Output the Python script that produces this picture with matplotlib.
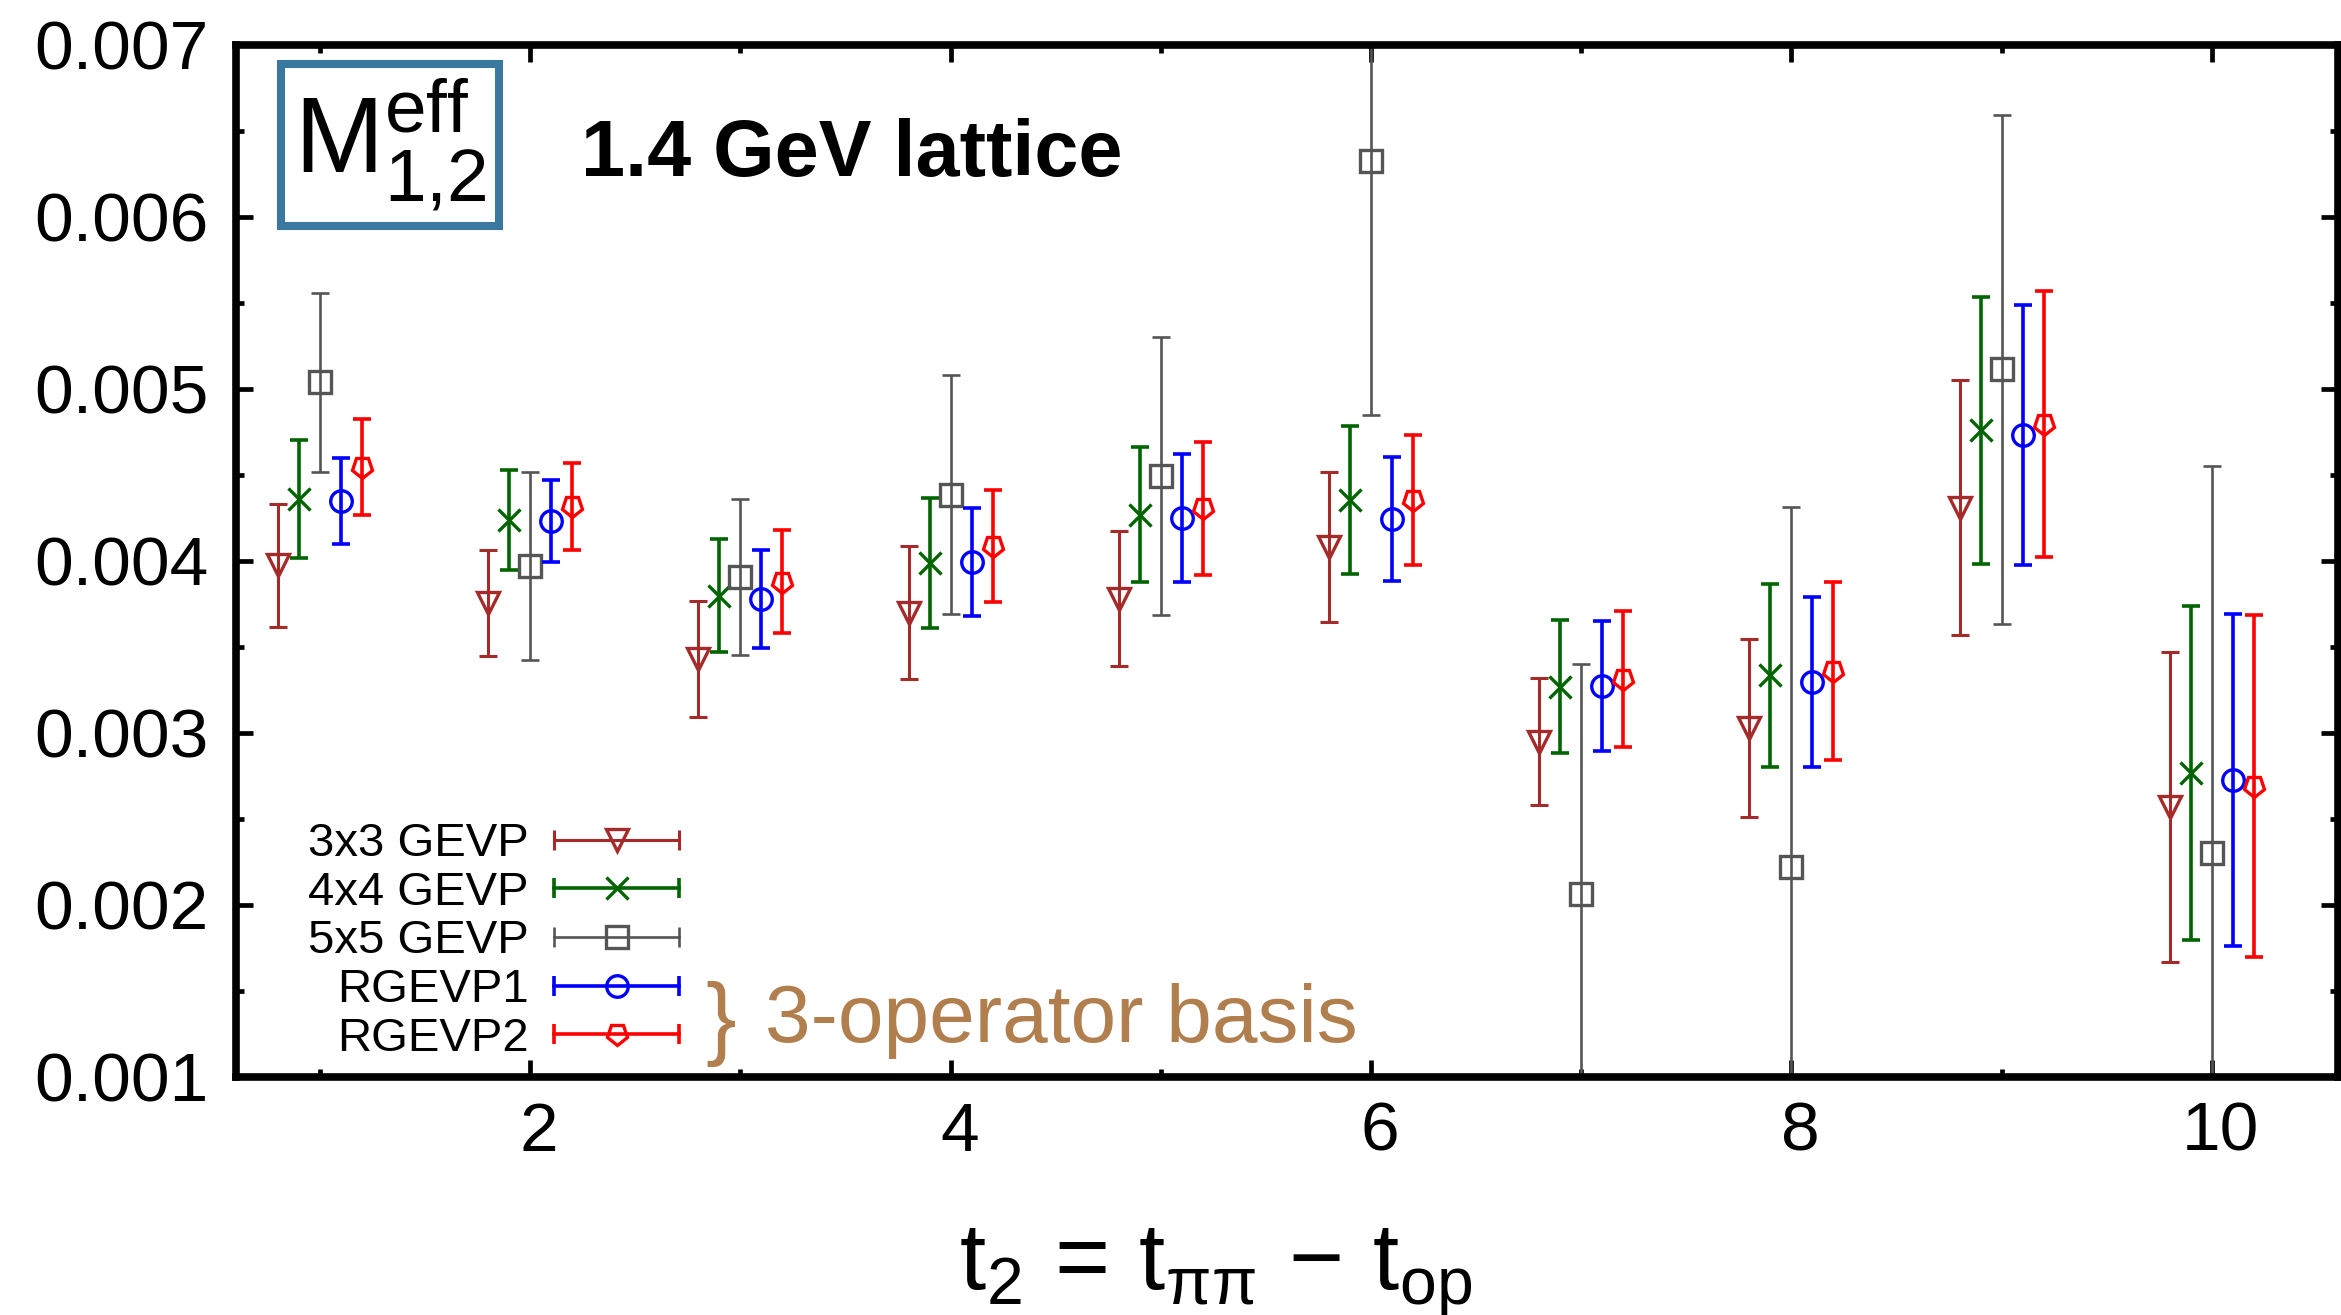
import numpy as np
import matplotlib
matplotlib.use('Agg')
import matplotlib.pyplot as plt
from matplotlib.lines import Line2D
from matplotlib.markers import MarkerStyle
from matplotlib.legend_handler import HandlerLine2D
from matplotlib.ticker import MultipleLocator, FormatStrFormatter
from matplotlib.transforms import Affine2D, ScaledTranslation

plt.rcParams['font.family'] = ['Liberation Sans', 'DejaVu Sans']
plt.rcParams['mathtext.fontset'] = 'custom'
plt.rcParams['mathtext.rm'] = 'Liberation Sans'
plt.rcParams['mathtext.it'] = 'Liberation Sans:italic'
plt.rcParams['mathtext.bf'] = 'Liberation Sans:bold'

# data
t2 = np.arange(1, 11)

gevp3_val = [0.003975, 0.003755, 0.00343, 0.0037, 0.00378, 0.00408, 0.00295, 0.00303, 0.00431, 0.00257]
gevp3_err = [0.000359, 0.000308, 0.000337, 0.000387, 0.000393, 0.000435, 0.00037, 0.000519, 0.000743, 0.0009]

gevp4_val = [0.00436, 0.004237, 0.003798, 0.003988, 0.00427, 0.004356, 0.003269, 0.003337, 0.004759, 0.002769]
gevp4_err = [0.000344, 0.000292, 0.00033, 0.00038, 0.00039, 0.00043, 0.000385, 0.000532, 0.000776, 0.000971]

gevp5_val = [0.005038, 0.003972, 0.003907, 0.004386, 0.004494, 0.006327, 0.002065, 0.002221, 0.005115, 0.002304]
gevp5_err = [0.00052, 0.000546, 0.000454, 0.000693, 0.000808, 0.001478, 0.001336, 0.002095, 0.00148, 0.00225]

rgevp1_val = [0.00435, 0.004234, 0.003779, 0.003994, 0.00425, 0.004245, 0.003272, 0.003298, 0.004733, 0.002728]
rgevp1_err = [0.00025, 0.000238, 0.000285, 0.000314, 0.00037, 0.000361, 0.000377, 0.000493, 0.000755, 0.000966]

rgevp2_val = [0.004548, 0.004317, 0.00388, 0.004087, 0.004307, 0.004356, 0.003316, 0.003358, 0.004795, 0.002691]
rgevp2_err = [0.000279, 0.000253, 0.0003, 0.000324, 0.000386, 0.000378, 0.000396, 0.000517, 0.000772, 0.000996]

labels = ['3x3 GEVP', '4x4 GEVP', '5x5 GEVP', 'RGEVP1', 'RGEVP2']
values = [gevp3_val, gevp4_val, gevp5_val, rgevp1_val, rgevp2_val]
errors = [gevp3_err, gevp4_err, gevp5_err, rgevp1_err, rgevp2_err]

# styles
offsets = [-0.2, -0.1, 0.0, 0.1, 0.2]
colors = ['#a52a2a', '#006400', '#555555', '#0000ff', '#ff0000']
pent_down = MarkerStyle('p', transform=Affine2D().rotate_deg(180))
markers = ['v', 'x', 's', 'o', pent_down]
lws = [2.2, 2.6, 1.9, 2.6, 2.6]
msize = 15.5

fig = plt.figure(figsize=(23.41, 13.15), dpi=100)
ax = fig.add_axes([0.1008, 0.1810, 0.8979, 0.7848])

for v, e, off, c, m, lw in zip(values, errors, offsets, colors, markers, lws):
    ax.errorbar(t2 + off, v, yerr=e, fmt='none', ecolor=c, elinewidth=lw,
                capsize=6.8, capthick=lw)
    ax.plot(t2 + off, v, ls='none', marker=m, markersize=msize,
            mfc='none', mec=c, mew=2.4)

ax.set_xlim(0.6, 10.6)
ax.set_ylim(0.001, 0.007)
ax.xaxis.set_major_locator(MultipleLocator(2))
ax.xaxis.set_minor_locator(MultipleLocator(1))
ax.yaxis.set_major_locator(MultipleLocator(0.001))
ax.yaxis.set_minor_locator(MultipleLocator(0.0005))
ax.yaxis.set_major_formatter(FormatStrFormatter('%.3f'))
ax.tick_params(which='both', direction='in', top=True, right=True, width=3.4)
ax.tick_params(which='major', length=12)
ax.tick_params(which='minor', length=6)
ax.tick_params(axis='y', labelsize=50, pad=20)
ax.tick_params(axis='x', labelsize=50, pad=17)
for s in ax.spines.values():
    s.set_linewidth(5.5)

# gnuplot puts the x numbers a little right of their ticks
shift = ScaledTranslation(0.09, 0, fig.dpi_scale_trans)
for lab in ax.get_xticklabels():
    lab.set_transform(lab.get_transform() + shift)

# legend with gnuplot-like horizontal bar handles
handles = []
hmap = {}
for c, m, lw in zip(colors, markers, lws):
    bar = Line2D([], [], color=c, lw=lw, marker='|', markersize=13.7, mew=lw)
    pt = Line2D([], [], ls='none', marker=m, markersize=msize, mfc='none', mec=c, mew=2.4)
    hmap[bar] = HandlerLine2D(numpoints=2, marker_pad=0)
    handles.append((bar, pt))
ax.legend(handles, labels, handler_map=hmap, loc='center', bbox_to_anchor=(0.1225, 0.1313),
          frameon=False, markerfirst=False, fontsize=34, handlelength=2.65,
          handletextpad=0.55, labelspacing=0.1, borderpad=0, borderaxespad=0)

ax.text(0.2307, 0.0518, '}', transform=ax.transAxes, ha='center', va='center',
        fontsize=66, color='#b07f4d')
ax.text(0.2516, 0.0339, '3-operator basis', transform=ax.transAxes, ha='left',
        va='baseline', fontsize=59, color='#b07f4d')

ax.text(0.1641, 0.8728, '1.4 GeV lattice', transform=ax.transAxes, ha='left',
        va='baseline', fontsize=57, fontweight='bold')
ax.text(0.0733, 0.9031, r'$\mathregular{M^{eff}_{1{,}2}}$', transform=ax.transAxes,
        ha='center', va='center', fontsize=77,
        bbox=dict(boxstyle='square,pad=0.12', fc='white', ec='#3b78a0', lw=5.8))

ax.set_xlabel(r'$\mathregular{t_2\,=\,t_{\pi\pi}\,-\,t_{op}}$', fontsize=68)
ax.xaxis.label.set_va('baseline')
ax.xaxis.set_label_coords(0.4662, -0.205)

fig.savefig('out.png', dpi=100)
